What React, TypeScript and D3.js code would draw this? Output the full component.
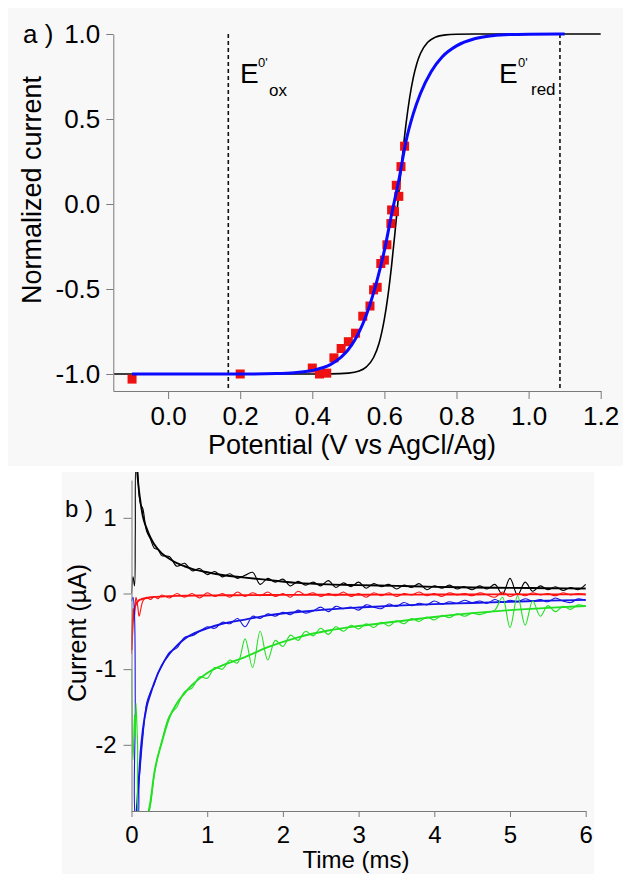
import React, { useEffect, useRef } from "react";
import * as d3 from "d3";

const FONT = "'Liberation Sans', Arial, sans-serif";

// ---- panel a: normalized current vs potential ----
const squareE = [-0.10, 0.20, 0.40, 0.42, 0.44, 0.46, 0.48, 0.50, 0.52, 0.54, 0.56, 0.57, 0.58, 0.59, 0.60, 0.607, 0.618, 0.62, 0.628, 0.633, 0.64, 0.646, 0.656];
const squareI = [-1.03, -1.0, -0.965, -1.0, -0.995, -0.905, -0.85, -0.81, -0.76, -0.66, -0.60, -0.505, -0.49, -0.35, -0.33, -0.24, -0.115, -0.035, -0.045, 0.11, 0.045, 0.22, 0.34];

const blueE = [-0.1, 0.2, 0.3, 0.35, 0.4, 0.45, 0.48, 0.5, 0.52, 0.54, 0.56, 0.58, 0.6, 0.62, 0.64, 0.66, 0.68, 0.7, 0.73, 0.76, 0.8, 0.85, 0.9, 0.95, 1.0, 1.1];
const blueI = [-1.0, -1.0, -0.997, -0.992, -0.979, -0.945, -0.901, -0.856, -0.793, -0.706, -0.591, -0.446, -0.273, -0.06, 0.14, 0.37, 0.53, 0.65, 0.78, 0.865, 0.93, 0.972, 0.99, 0.997, 0.999, 1.0];

const blackE = [-0.15, 0.4, 0.45, 0.5, 0.53, 0.55, 0.57, 0.585, 0.6, 0.61, 0.62, 0.63, 0.64, 0.65, 0.66, 0.67, 0.68, 0.69, 0.7, 0.72, 0.74, 0.77, 0.8, 0.85, 1.2];
const blackI = [-1, -1, -0.9995, -0.995, -0.983, -0.958, -0.903, -0.821, -0.676, -0.537, -0.361, -0.154, 0.067, 0.281, 0.471, 0.625, 0.742, 0.827, 0.885, 0.951, 0.98, 0.995, 0.9985, 1, 1];

const eOx = 0.167;
const eRed = 1.087;
const potTicks = [0, 0.2, 0.4, 0.6, 0.8, 1.0, 1.2];
const normTicks = [-1, -0.5, 0, 0.5, 1];

// ---- panel b: current transients ----
const rawTime = [0, 0.02, 0.04, 0.05, 0.06, 0.08, 0.1, 0.12, 0.15, 0.2, 0.25, 0.3, 0.35,
  0.4, 0.5, 0.6, 0.7, 0.8, 0.9, 1.0, 1.1, 1.2, 1.3, 1.4, 1.5, 1.6, 1.7, 1.8, 1.9, 2.0,
  2.1, 2.2, 2.3, 2.4, 2.5, 2.6, 2.7, 2.8, 2.9, 3.0, 3.1, 3.2, 3.3, 3.4, 3.5, 3.6, 3.7, 3.8, 3.9, 4.0,
  4.1, 4.2, 4.3, 4.4, 4.5, 4.6, 4.7, 4.8, 4.9, 5.0, 5.1, 5.2, 5.3, 5.4, 5.5, 5.6, 5.7, 5.8, 5.9, 6.0];

const rawBlack = [0.0, 0.22, 0.1, 0.8, 1.7, 1.62, 1.3, 1.18, 1.12, 0.82, 0.72, 0.6, 0.58,
  0.5, 0.49, 0.36, 0.4, 0.3, 0.33, 0.25,
  0.29, 0.22, 0.26, 0.2, 0.24, 0.28, 0.12, 0.2, 0.15, 0.19,
  0.1, 0.16, 0.11, 0.15, 0.1, 0.17, 0.08, 0.14, 0.09, 0.15,
  0.07, 0.13, 0.09, 0.12, 0.06, 0.11, 0.08, 0.13, 0.05, 0.1,
  0.07, 0.11, 0.06, 0.09, 0.05, 0.1, 0.06, 0.12, -0.01, 0.2,
  -0.02, 0.15, 0.03, 0.1, 0.05, 0.09, 0.04, 0.08, 0.05, 0.12];
const rawRed = [-0.8, -0.2, -0.3, -0.12, -0.05, -0.15, -0.3, -0.22, -0.1, -0.05, -0.08, -0.04, -0.07,
  -0.02, -0.06, 0.0, -0.05, 0.0, -0.06, 0.01,
  -0.04, 0.0, -0.05, 0.02, -0.04, 0.01, -0.03, 0.02, -0.04, 0.0,
  -0.05, 0.03, -0.02, 0.01, -0.04, 0.0, -0.03, 0.02, -0.04, 0.0,
  -0.05, 0.01, -0.03, 0.01, -0.04, 0.0, -0.02, 0.02, -0.03, 0.0,
  -0.04, 0.01, -0.02, 0.0, -0.03, 0.01, -0.02, -0.05, 0.02, -0.04,
  0.0, -0.03, 0.01, -0.02, 0.0, -0.03, 0.01, -0.02, 0.0, -0.02];
const rawBlue = [-0.1, -0.05, -0.3, -1.5, -3.0, -3.0, -2.5, -2.25, -1.9, -1.45, -1.3, -1.2, -1.05,
  -0.96, -0.78, -0.72, -0.58, -0.56, -0.5, -0.44,
  -0.46, -0.38, -0.4, -0.33, -0.44, -0.3, -0.33, -0.27, -0.3, -0.25,
  -0.28, -0.22, -0.26, -0.23, -0.18, -0.24, -0.17, -0.2, -0.18, -0.22,
  -0.15, -0.18, -0.2, -0.14, -0.17, -0.12, -0.16, -0.13, -0.15, -0.1,
  -0.14, -0.11, -0.13, -0.09, -0.12, -0.1, -0.13, -0.08, -0.12, -0.09,
  -0.11, -0.07, -0.1, -0.08, -0.11, -0.06, -0.1, -0.12, -0.07, -0.09];
const rawGreen = [-1.0, -2.2, -1.6, -1.9, -1.45, -2.0, -3.0, -3.0, -3.0, -3.0, -2.8, -2.4, -2.15,
  -1.95, -1.62, -1.5, -1.3, -1.25, -1.1, -1.12,
  -0.98, -1.0, -0.88, -0.92, -0.6, -0.98, -0.5, -0.88, -0.62, -0.7,
  -0.55, -0.62, -0.5, -0.56, -0.46, -0.54, -0.44, -0.5, -0.42, -0.47,
  -0.4, -0.45, -0.38, -0.43, -0.36, -0.4, -0.33, -0.37, -0.31, -0.35,
  -0.29, -0.32, -0.27, -0.3, -0.26, -0.28, -0.25, -0.22, -0.05, -0.45,
  -0.03, -0.42, -0.1, -0.3, -0.16, -0.24, -0.17, -0.21, -0.15, -0.17];

const fitTime = [0, 0.02, 0.04, 0.06, 0.08, 0.1, 0.12, 0.15, 0.2, 0.25, 0.3, 0.4, 0.5, 0.6, 0.7, 0.8,
  1.0, 1.2, 1.5, 1.8, 2.2, 2.6, 3.0, 3.5, 4.0, 4.5, 5.0, 5.5, 6.0];
const fitBlack = [null, null, null, 1.8, 1.55, 1.35, 1.2, 1.02, 0.86, 0.74, 0.65, 0.53, 0.46, 0.4, 0.36, 0.325,
  0.28, 0.245, 0.21, 0.18, 0.14, 0.12, 0.11, 0.1, 0.088, 0.08, 0.074, 0.07, 0.066];
const fitRed = [-0.75, -0.35, -0.2, -0.14, -0.11, -0.09, -0.08, -0.07, -0.06, -0.05, -0.045, -0.04, -0.035, -0.032, -0.03, -0.028,
  -0.026, -0.024, -0.022, -0.02, -0.018, -0.017, -0.016, -0.015, -0.014, -0.013, -0.012, -0.012, -0.011];
const fitBlue = [null, null, null, -3.0, -2.7, -2.4, -2.1, -1.8, -1.5, -1.33, -1.18, -0.95, -0.8, -0.69, -0.6, -0.54,
  -0.46, -0.4, -0.345, -0.29, -0.245, -0.21, -0.185, -0.16, -0.14, -0.125, -0.11, -0.095, -0.085];
const fitGreen = [null, null, null, null, null, null, null, null, -3.0, -2.75, -2.38, -1.97, -1.64, -1.45, -1.32, -1.21,
  -1.05, -0.95, -0.84, -0.71, -0.58, -0.49, -0.43, -0.37, -0.31, -0.26, -0.22, -0.19, -0.165];

const timeTicks = [0, 1, 2, 3, 4, 5, 6];
const currentTicks = [-2, -1, 0, 1];

const traces = [
  { raw: rawBlack, fit: fitBlack, color: "#000000" },
  { raw: rawRed, fit: fitRed, color: "#ff1010" },
  { raw: rawBlue, fit: fitBlue, color: "#1414e6" },
  { raw: rawGreen, fit: fitGreen, color: "#22e022" },
];

// plain hyphen for negatives, like the original figure
const hyphen = (spec) => (d) => d3.format(spec)(d).replace("\u2212", "-");

function Axis({ scale, orient, ticks, format, size, pad, fontSize, transform }) {
  const ref = useRef(null);
  useEffect(() => {
    const ax = (orient === "left" ? d3.axisLeft(scale) : d3.axisBottom(scale))
      .tickValues(ticks)
      .tickFormat(format)
      .tickSizeInner(size)
      .tickSizeOuter(0)
      .tickPadding(pad);
    const g = d3.select(ref.current);
    g.call(ax);
    g.select(".domain").attr("stroke", "#7a7a7a");
    g.selectAll(".tick line").attr("stroke", "#7a7a7a");
    g.selectAll(".tick text")
      .attr("fill", "#000")
      .attr("font-size", fontSize)
      .attr("font-family", FONT);
  });
  return <g ref={ref} transform={transform} />;
}

export default function App() {
  // panel a scales
  const xA = d3.scaleLinear().domain([-0.152, 1.2]).range([113.3, 600.7]);
  const yA = d3.scaleLinear().domain([-1.1, 1.0]).range([391, 34]);
  // panel b scales
  const xB = d3.scaleLinear().domain([0, 6]).range([131.5, 585.7]);
  const yB = d3.scaleLinear().domain([-2.875, 1.5]).range([811, 480]);

  const blueLine = d3.line<number>().curve(d3.curveMonotoneX)
    .x((d, i) => xA(blueE[i])).y((d) => yA(d))(blueI);
  const blackLine = d3.line<number>().curve(d3.curveMonotoneX)
    .x((d, i) => xA(blackE[i])).y((d) => yA(d))(blackI);

  const rawLine = d3.line<number>().curve(d3.curveCatmullRom)
    .x((d, i) => xB(rawTime[i])).y((d) => yB(d));
  const fitLine = d3.line<number | null>().curve(d3.curveMonotoneX)
    .defined((d) => d !== null)
    .x((d, i) => xB(fitTime[i])).y((d) => yB(d as number));

  return (
    <svg width={623} height={874} style={{ position: "absolute", left: 0, top: 0, background: "#ffffff" }}
      fontFamily={FONT}>
      <defs>
        <clipPath id="clipB">
          <rect x={xB(0)} y={472} width={xB(6) - xB(0) + 2} height={yB(-2.875) - 472} />
        </clipPath>
      </defs>
      <rect x={8} y={8} width={615} height={458} fill="#f8f8f8" />
      <rect x={62} y={472} width={532} height={402} fill="#f8f8f8" />

      {/* panel a */}
      {[eOx, eRed].map((e) => (
        <line key={e} x1={xA(e)} x2={xA(e)} y1={yA(1.0)} y2={yA(-1.1)} stroke="#111" strokeWidth={1.6} strokeDasharray="4 3" />
      ))}
      <path d={blackLine} fill="none" stroke="#000" strokeWidth={1.6} />
      {squareE.map((e, i) => (
        <rect key={i} x={xA(e) - 4.5} y={yA(squareI[i]) - 4.5} width={9} height={9} fill="#ee1111" />
      ))}
      <path d={blueLine} fill="none" stroke="#0a0aff" strokeWidth={3} />

      <Axis scale={yA} orient="left" ticks={normTicks} format={hyphen(".1f")} size={7} pad={6} fontSize={26}
        transform={`translate(${xA(-0.152)},0)`} />
      <Axis scale={xA} orient="bottom" ticks={potTicks} format={hyphen(".1f")} size={8} pad={8} fontSize={26}
        transform={`translate(0,${yA(-1.1)})`} />

      <text x={23} y={43} fontSize={26}>a )</text>
      <text x={352} y={454} fontSize={27} textAnchor="middle">Potential (V vs AgCl/Ag)</text>
      <text transform="translate(41,190) rotate(-90)" fontSize={27} textAnchor="middle">Normalized current</text>

      <text x={240} y={83} fontSize={28}>E</text>
      <text x={258} y={67} fontSize={13}>0'</text>
      <text x={269} y={96} fontSize={17}>ox</text>
      <text x={499} y={83} fontSize={28}>E</text>
      <text x={518} y={67} fontSize={13}>0'</text>
      <text x={531} y={95} fontSize={17}>red</text>

      {/* panel b */}
      <g clipPath="url(#clipB)">
        {traces.map((t, k) => (
          <g key={k}>
            <path d={rawLine(t.raw)} fill="none" stroke={t.color} strokeWidth={1.1} />
            <path d={fitLine(t.fit)} fill="none" stroke={t.color} strokeWidth={1.9} />
          </g>
        ))}
      </g>

      <Axis scale={yB} orient="left" ticks={currentTicks} format={hyphen("d")} size={8} pad={7} fontSize={24}
        transform={`translate(${xB(0)},0)`} />
      <Axis scale={xB} orient="bottom" ticks={timeTicks} format={hyphen("d")} size={6} pad={9} fontSize={24}
        transform={`translate(0,${yB(-2.875)})`} />

      <text x={65} y={517} fontSize={24}>b )</text>
      <text x={356} y={868} fontSize={24} textAnchor="middle">Time (ms)</text>
      <text transform="translate(86,633) rotate(-90)" fontSize={25} textAnchor="middle">Current (µA)</text>
    </svg>
  );
}
